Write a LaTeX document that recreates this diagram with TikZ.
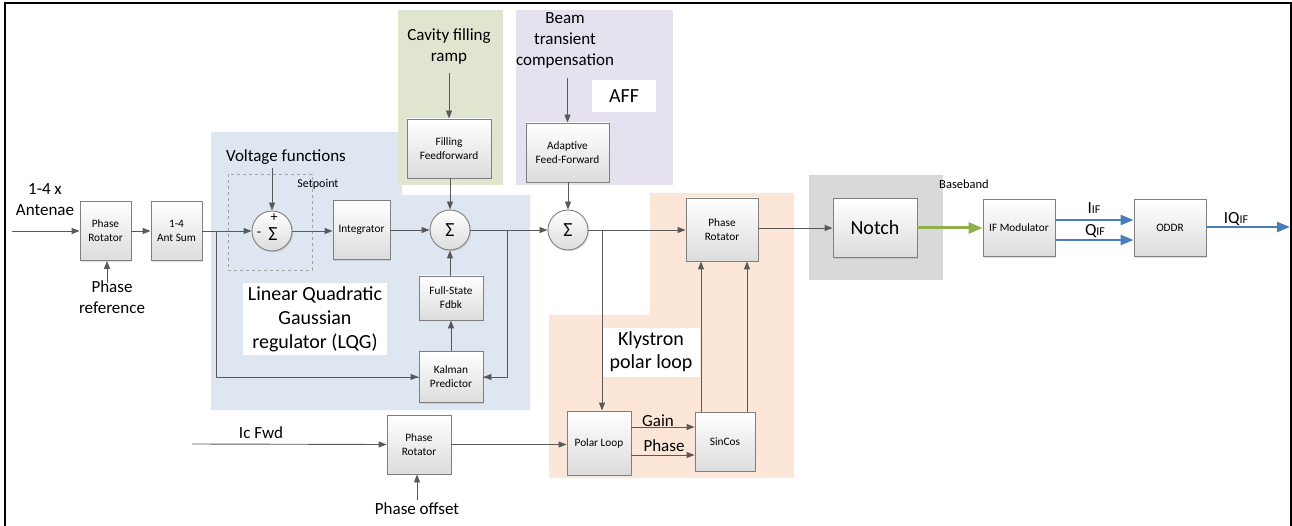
\documentclass[tikz,border=0pt]{standalone}
\usepackage{fontspec}
\setmainfont{Carlito}
\usetikzlibrary{arrows.meta,shadows,calc}
\definecolor{lqgblue}{HTML}{DEE7F1}
\definecolor{fillgreen}{HTML}{DFE5CF}
\definecolor{affpurple}{HTML}{E5E1EE}
\definecolor{klyorange}{HTML}{FBE6D8}
\definecolor{notchgrey}{HTML}{D9D9D9}
\definecolor{boxedge}{HTML}{7F7F7F}
\definecolor{boxbot}{HTML}{DCDCDC}
\definecolor{linegray}{HTML}{595959}
\definecolor{ifblue}{HTML}{4A7EBB}
\definecolor{bbgreen}{HTML}{8FAE4C}
\begin{document}
\begin{tikzpicture}[x=1pt,y=-1pt,
  blk/.style={draw=boxedge, line width=0.9pt, top color=white, bottom color=boxbot,
    align=center, font=\fontsize{11.3}{14}\selectfont, inner sep=1pt,
    drop shadow={opacity=0.25, shadow xshift=1.2pt, shadow yshift=-1.2pt}},
  sumc/.style={circle, draw=boxedge, line width=0.9pt, top color=white, bottom color=boxbot,
    minimum size=40, inner sep=0, font=\fontsize{20}{20}\selectfont,
    drop shadow={opacity=0.25, shadow xshift=1.2pt, shadow yshift=-1.2pt}},
  arr/.style={draw=linegray, line width=0.9pt, -{Triangle[length=8pt,width=6pt]}},
  plain/.style={draw=linegray, line width=0.9pt},
  bluearr/.style={draw=ifblue, line width=2.4pt, -{Triangle[length=13pt,width=10pt]}},
  greenarr/.style={draw=bbgreen, line width=3pt, -{Triangle[length=14pt,width=11pt]}},
  lbl/.style={font=\fontsize{17}{21}\selectfont, align=center, inner sep=0},
  biglbl/.style={font=\fontsize{20}{24}\selectfont, align=center, inner sep=0},
  smalllbl/.style={font=\fontsize{12.5}{14}\selectfont, inner sep=0}
]
\useasboundingbox (0,0) rectangle (1292,526);

% shaded regions
\fill[lqgblue] (211,132) -- (402,132) -- (402,195) -- (530,195) -- (530,410) -- (211,410) -- cycle;
\fill[fillgreen] (398,10) rectangle (503,185);
\fill[affpurple] (516,10) rectangle (673,185);
\fill[klyorange] (650,193) -- (794,193) -- (794,478) -- (549,478) -- (549,315) -- (650,315) -- cycle;
\fill[notchgrey] (809,175) rectangle (943,280);

% white label boxes
\fill[white] (243,283) rectangle (387,355);
\fill[white] (592,80) rectangle (656,112);
\fill[white] (603,328) rectangle (700,377);

% frame
\draw[line width=2pt] (5,526) -- (5,3) -- (1291,3) -- (1291,526);

% setpoint dashed box
\draw[draw=gray!70, dashed, line width=0.7pt] (228,174) rectangle (312,270);
\node[font=\fontsize{12}{14}\selectfont, inner sep=0] (spt) at (318,184) {Setpoint};

% blocks
\node[blk, minimum width=51, minimum height=59] (pr1) at (105.5,231) {Phase\\Rotator};
\node[blk, minimum width=51, minimum height=59] (ant) at (176.5,231) {1-4\\Ant Sum};
\node[sumc] (s1) at (272,231) {};
\node[inner sep=0, font=\fontsize{20}{20}\selectfont] (s1sig) at (273,234) {Σ};
\node[inner sep=0, font=\fontsize{14}{14}\selectfont] (s1p) at (274,218) {+};
\node[inner sep=0, font=\fontsize{14}{14}\selectfont] (s1m) at (259,234) {-};
\node[blk, minimum width=57, minimum height=59] (int) at (361.5,230) {Integrator};
\node[sumc] (s2) at (450,230) {Σ};
\node[blk, minimum width=84, minimum height=59] (ff) at (449,148.5) {Filling\\Feedforward};
\node[blk, minimum width=64, minimum height=44] (fsf) at (451,298) {Full-State\\Fdbk};
\node[blk, minimum width=64, minimum height=51] (kal) at (451,377) {Kalman\\Predictor};
\node[blk, minimum width=83, minimum height=59] (aff) at (567.5,152.5) {Adaptive\\Feed-Forward};
\node[sumc] (s3) at (568,230) {Σ};
\node[blk, minimum width=72, minimum height=63] (pr2) at (722,229.5) {Phase\\Rotator};
\node[blk, minimum width=64, minimum height=64] (pl) at (599,443) {Polar Loop};
\node[blk, minimum width=60, minimum height=59] (sc) at (725,441.5) {SinCos};
\node[blk, minimum width=84, minimum height=59, font=\fontsize{20}{24}\selectfont] (notch) at (875,228) {Notch};
\node[blk, minimum width=72, minimum height=57] (ifm) at (1019,228) {IF Modulator};
\node[blk, minimum width=72, minimum height=57] (oddr) at (1170,228) {ODDR};
\node[blk, minimum width=64, minimum height=59] (pr3) at (419,444.5) {Phase\\Rotator};

% text labels
\node[lbl] (antl) at (45,200) {1-4 x\\Antenae};
\node[lbl] (phref) at (112,297) {Phase\\reference};
\node[lbl] (vf) at (286,157) {Voltage functions};
\node[biglbl] (lqg) at (315,319) {Linear Quadratic\\Gaussian\\regulator (LQG)};
\node[lbl] (cav) at (449,46) {Cavity filling\\ramp};
\node[lbl] (beam) at (565,40) {Beam\\transient\\compensation};
\node[biglbl] (affl) at (624,96) {AFF};
\node[biglbl, font=\fontsize{20}{23}\selectfont] (kly) at (651,352) {Klystron\\polar loop};
\node[lbl] (gain) at (658,421) {Gain};
\node[lbl] (phase) at (664,446) {Phase};
\node[smalllbl] (bb) at (964,184) {Baseband};
\node[lbl, anchor=base] (iif) at (1094,214) {I{\fontsize{12}{12}\selectfont IF}};
\node[lbl, anchor=base] (qif) at (1095,236) {Q{\fontsize{12}{12}\selectfont IF}};
\node[lbl, anchor=base] (iqif) at (1236,224) {IQ{\fontsize{12}{12}\selectfont IF}};
\node[lbl] (icf) at (261,433) {Ic Fwd};
\node[lbl] (poff) at (417,509) {Phase offset};

% free ends
\coordinate (inA) at (12,231);
\coordinate (phr) at (107,283);
\coordinate (vfe) at (272,168);
\coordinate (cave) at (449,73);
\coordinate (beame) at (567.5,78);
\coordinate (br1) at (216,231);
\coordinate (br2) at (507,230);
\coordinate (br3) at (602,230);
\coordinate (icfe) at (192,444);
\coordinate (poe) at (417,500);
\coordinate (oute) at (1290,227);

% connectors
\draw[arr] (inA) -- (pr1.west);
\draw[arr] (phr) -- (pr1.south -| phr);
\draw[arr] (pr1.east) -- (ant.west);
\draw[arr] (ant.east) -- (s1.west);
\draw[plain] (br1) |- (kal.west);
\draw[arr] (br1 |- kal.west) -- (kal.west);
\draw[arr] (vfe) -- (s1.north);
\draw[arr] (s1.east) -- (int.west |- s1.east);
\draw[arr] (int.east |- s2.west) -- (s2.west);
\draw[arr] (cave) -- (ff.north -| cave);
\draw[arr] (ff.south -| s2.north) -- (s2.north);
\draw[arr] (fsf.north -| s2.south) -- (s2.south);
\draw[arr] (kal.north -| fsf.south) -- (fsf.south);
\draw[arr] (s2.east) -- (s3.west);
\draw[plain] (br2) |- (kal.east);
\draw[arr] (br2 |- kal.east) -- (kal.east);
\draw[arr] (beame) -- (aff.north);
\draw[arr] (aff.south -| s3.north) -- (s3.north);
\draw[arr] (s3.east) -- (pr2.west |- s3.east);
\draw[arr] (br3) -- (pl.north -| br3);
\draw[arr] (pl.east |- 0,427) -- (sc.west |- 0,427);
\draw[arr] (pl.east |- 0,455) -- (sc.west |- 0,455);
\draw[arr] (sc.north -| 701,0) -- (pr2.south -| 701,0);
\draw[arr] (sc.north -| 747,0) -- (pr2.south -| 747,0);
\draw[arr] (pr2.east |- notch.west) -- (notch.west);
\draw[greenarr] (notch.east) -- (ifm.west);
\draw[bluearr] (ifm.east |- 0,220) -- (oddr.west |- 0,220);
\draw[bluearr] (ifm.east |- 0,240) -- (oddr.west |- 0,240);
\draw[bluearr] (oddr.east |- oute) -- (oute);
\draw[arr] (icfe) -- (pr3.west);
\draw[arr] (pr3.east) -- (pl.west |- pr3.east);
\draw[arr] (poe) -- (pr3.south -| poe);
\end{tikzpicture}
\end{document}
